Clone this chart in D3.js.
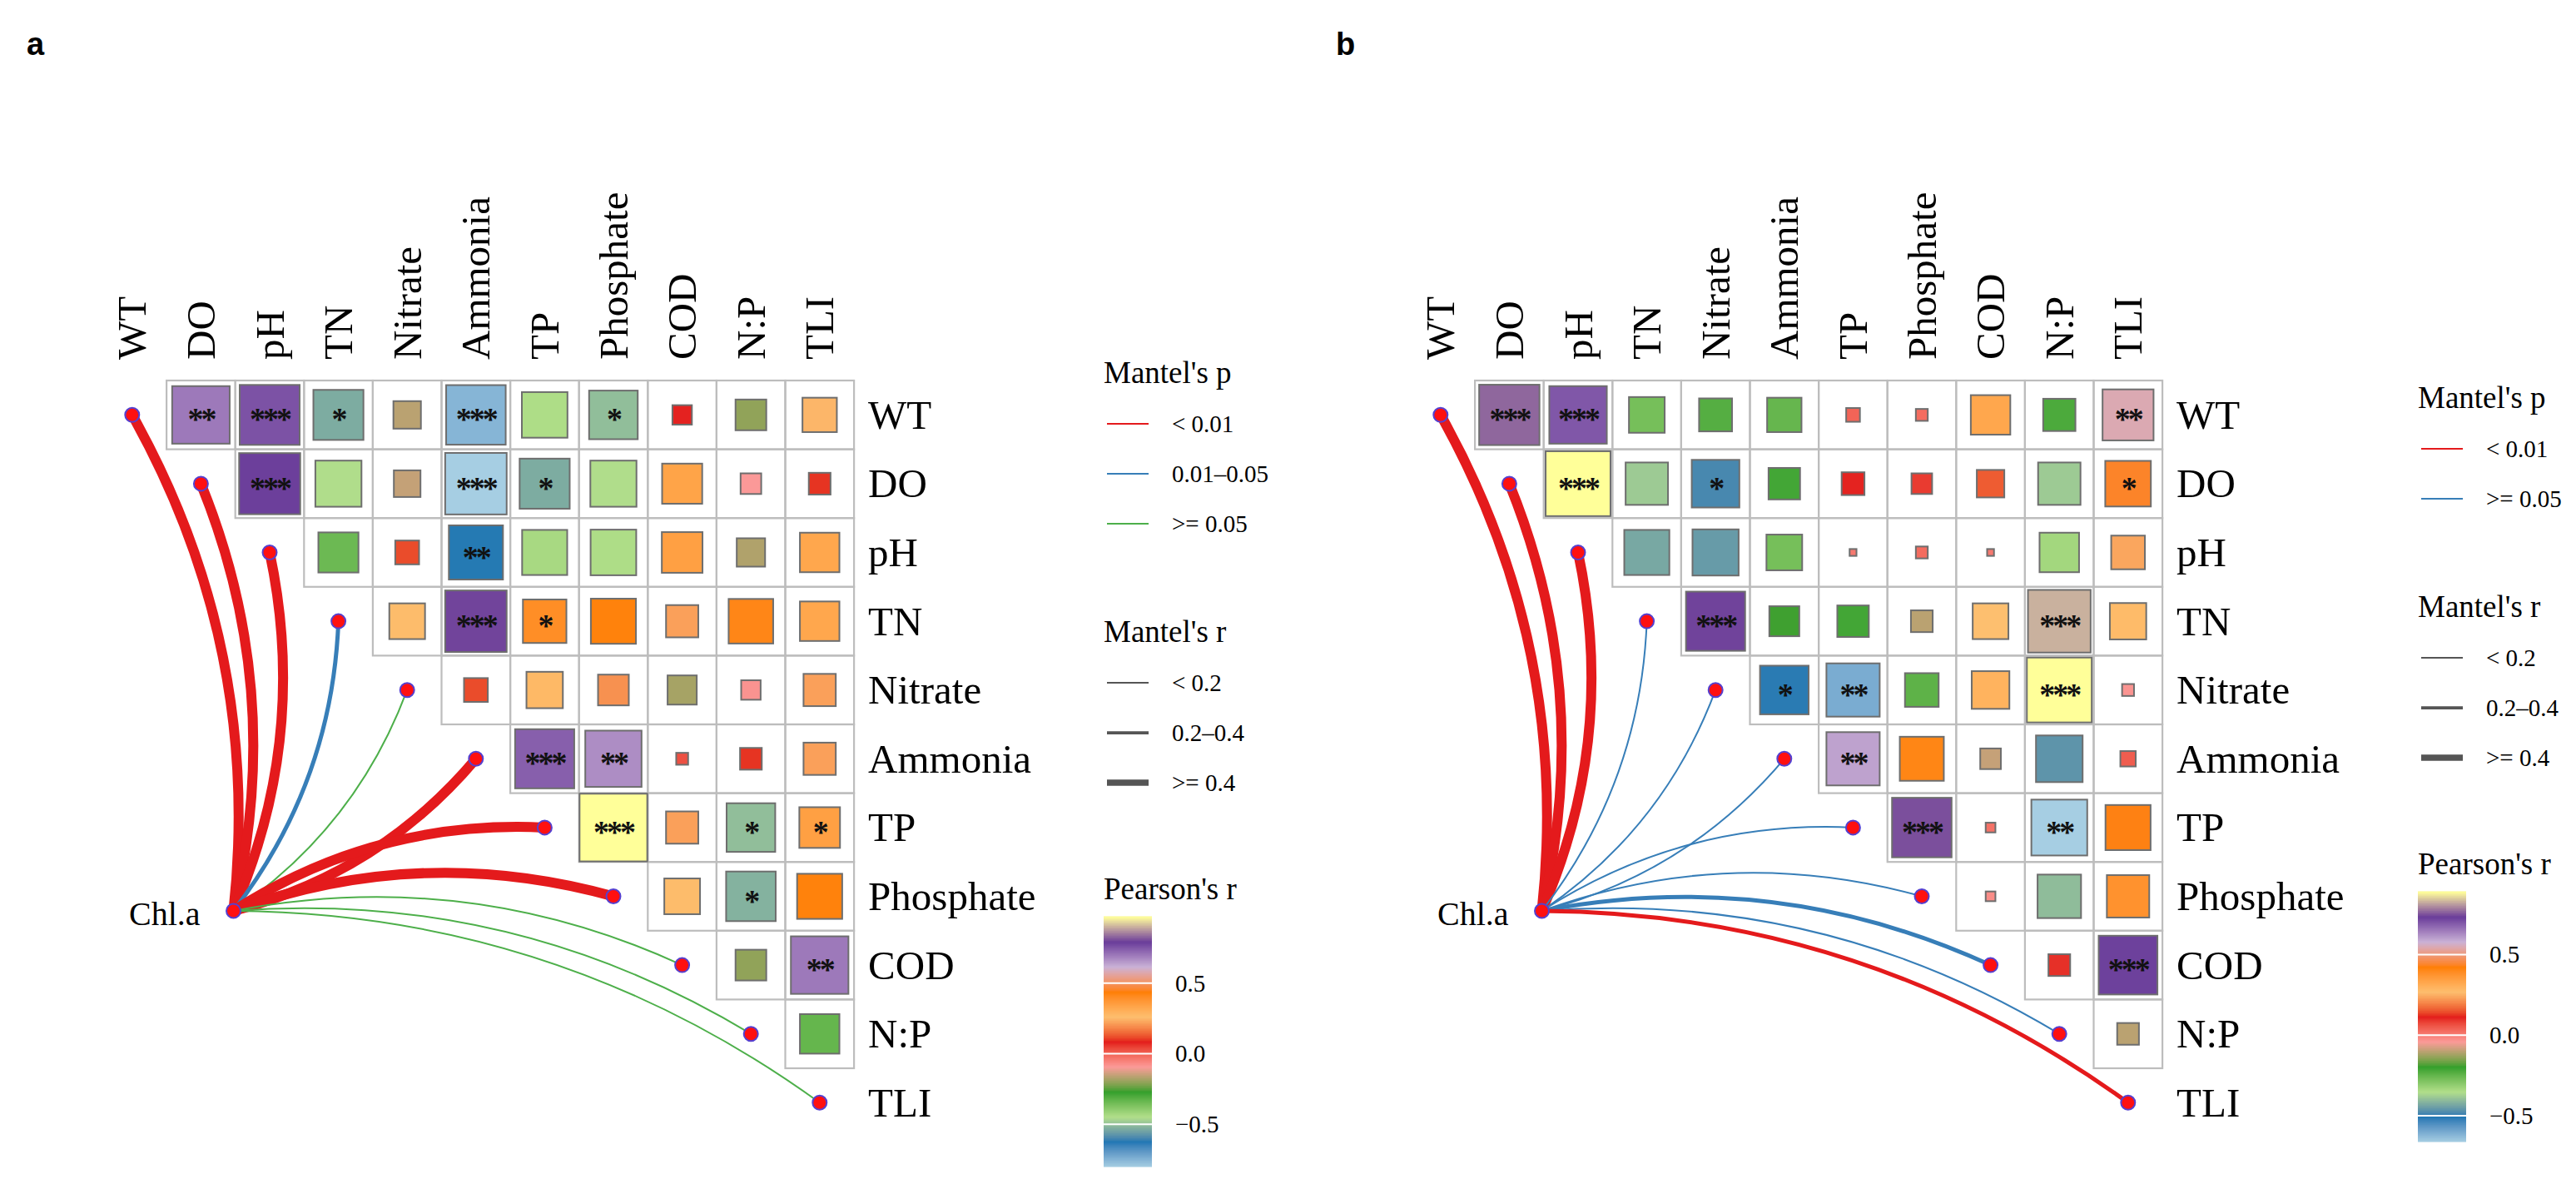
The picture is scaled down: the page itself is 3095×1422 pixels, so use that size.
<!DOCTYPE html>
<html>
<head>
<meta charset="utf-8">
<script src="https://cdn.jsdelivr.net/npm/d3@7"></script>
<style>
  body { margin: 0; background: #fff; }
  svg { display: block; }
  text { font-family: 'Liberation Serif', 'Times New Roman', serif; }
</style>
</head>
<body>
<div id="chart"></div>
<script>
// ---- data ----
const vars = ["WT", "DO", "pH", "TN", "Nitrate", "Ammonia", "TP", "Phosphate", "COD", "N:P", "TLI"];

// Pearson's r, upper triangle: row i holds columns i+1 .. 10
const pearsonA = [
  [0.70, 0.76, -0.53, -0.16, -0.75, -0.44, -0.50, 0.08, -0.20, 0.25],
  [0.79, -0.45, -0.15, -0.80, -0.53, -0.45, 0.34, -0.09, 0.10],
  [-0.34, 0.12, -0.62, -0.43, -0.44, 0.35, -0.17, 0.33],
  [0.27, 0.80, 0.40, 0.43, 0.22, 0.42, 0.33],
  [0.12, 0.28, 0.20, -0.18, -0.08, 0.22],
  [0.74, 0.67, 0.03, 0.10, 0.22],
  [0.97, 0.22, -0.50, 0.35],
  [0.27, -0.52, 0.43],
  [-0.20, 0.70],
  [-0.33],
  []
];
const starsA = [
  ["**", "***", "*", "", "***", "", "*", "", "", ""],
  ["***", "", "", "***", "*", "", "", "", ""],
  ["", "", "**", "", "", "", "", ""],
  ["", "***", "*", "", "", "", ""],
  ["", "", "", "", "", ""],
  ["***", "**", "", "", ""],
  ["***", "", "*", "*"],
  ["", "*", ""],
  ["", "**"],
  [""],
  []
];
const mantelPA = ["< 0.01", "< 0.01", "< 0.01", "0.01–0.05", ">= 0.05", "< 0.01", "< 0.01", "< 0.01", ">= 0.05", ">= 0.05", ">= 0.05"];
const mantelRA = [">= 0.4", ">= 0.4", ">= 0.4", "0.2–0.4", "< 0.2", ">= 0.4", ">= 0.4", ">= 0.4", "< 0.2", "< 0.2", "< 0.2"];

const pearsonB = [
  [0.77, 0.70, -0.27, -0.23, -0.25, 0.04, 0.03, 0.33, -0.22, 0.55],
  [0.89, -0.38, -0.48, -0.21, 0.11, 0.09, 0.16, -0.38, 0.44],
  [-0.43, -0.45, -0.27, 0.01, 0.03, 0.01, -0.33, 0.24],
  [0.74, -0.19, -0.21, -0.10, 0.27, 0.83, 0.28],
  [-0.50, -0.60, -0.24, 0.30, 0.89, -0.03],
  [0.60, 0.41, -0.09, -0.46, 0.05],
  [0.75, 0.02, -0.66, 0.43],
  [-0.02, -0.40, 0.38],
  [0.10, 0.73],
  [-0.10],
  []
];
const starsB = [
  ["***", "***", "", "", "", "", "", "", "", "**"],
  ["***", "", "*", "", "", "", "", "", "*"],
  ["", "", "", "", "", "", "", ""],
  ["***", "", "", "", "", "***", ""],
  ["*", "**", "", "", "***", ""],
  ["**", "", "", "", ""],
  ["***", "", "**", ""],
  ["", "", ""],
  ["", "***"],
  [""],
  []
];
const mantelPB = ["< 0.01", "< 0.01", "< 0.01", ">= 0.05", ">= 0.05", ">= 0.05", ">= 0.05", ">= 0.05", ">= 0.05", ">= 0.05", "< 0.01"];
const mantelRB = [">= 0.4", ">= 0.4", ">= 0.4", "< 0.2", "< 0.2", "< 0.2", "< 0.2", "< 0.2", "0.2–0.4", "< 0.2", "0.2–0.4"];

const pLevelsA = ["< 0.01", "0.01–0.05", ">= 0.05"];
const pLevelsB = ["< 0.01", ">= 0.05"];
const rLevels = ["< 0.2", "0.2–0.4", ">= 0.4"];
const colorTicks = [-0.5, 0.0, 0.5];
const species = "Chl.a";

// ---- layout ----
const W = 3095, H = 1422;
const cell = 82.6;
const gridTop = 457;
const paired = ["#A6CEE3", "#1F78B4", "#B2DF8A", "#33A02C", "#FB9A99", "#E31A1C",
                "#FDBF6F", "#FF7F00", "#CAB2D6", "#6A3D9A", "#FFFF99"];
const pColors = ["#E41A1C", "#377EB8", "#4DAF4A"];
const rWidths = [2, 5, 12];

const svg = d3.select("#chart").append("svg")
  .attr("width", W).attr("height", H);

function drawPanel(cfg) {
  const { x0, pearson, stars, mantelP, mantelR, pLevels, legX, tag, tagX } = cfg;
  const g = svg.append("g");

  const x = d3.scaleBand().domain(vars).range([x0, x0 + cell * vars.length]);
  const y = d3.scaleBand().domain(vars).range([gridTop, gridTop + cell * vars.length]);

  const cells = [];
  pearson.forEach((row, i) => row.forEach((r, k) => {
    const j = i + 1 + k;
    cells.push({ row: vars[i], col: vars[j], r: r, star: stars[i][k] });
  }));

  const ext = d3.extent(cells, d => d.r);
  const color = d3.scaleLinear()
    .domain(d3.range(paired.length).map(i => ext[0] + i * (ext[1] - ext[0]) / (paired.length - 1)))
    .range(paired)
    .interpolate(d3.interpolateLab)
    .clamp(true);
  const side = d3.scaleSqrt().domain([0, 1]).range([0, cell]);

  // grid cells
  g.append("g").selectAll("rect").data(cells).join("rect")
    .attr("x", d => x(d.col)).attr("y", d => y(d.row))
    .attr("width", x.bandwidth()).attr("height", y.bandwidth())
    .attr("fill", "none").attr("stroke", "#BDBDBD").attr("stroke-width", 2.2);

  // squares
  g.append("g").selectAll("rect").data(cells).join("rect")
    .attr("x", d => x(d.col) + (x.bandwidth() - side(Math.abs(d.r))) / 2)
    .attr("y", d => y(d.row) + (y.bandwidth() - side(Math.abs(d.r))) / 2)
    .attr("width", d => side(Math.abs(d.r)))
    .attr("height", d => side(Math.abs(d.r)))
    .attr("fill", d => color(d.r))
    .attr("stroke", "#6E6E6E").attr("stroke-width", 2);

  // significance marks
  g.append("g").selectAll("text").data(cells.filter(d => d.star)).join("text")
    .attr("x", d => x(d.col) + x.bandwidth() / 2)
    .attr("y", d => y(d.row) + y.bandwidth() / 2 + 18)
    .attr("text-anchor", "middle")
    .attr("font-size", 38)
    .attr("font-weight", "bold")
    .attr("letter-spacing", -3)
    .attr("fill", "#111")
    .text(d => d.star);

  // column labels
  g.append("g").selectAll("text").data(vars).join("text")
    .attr("transform", d => `translate(${x(d) + x.bandwidth() / 2},${gridTop - 25}) rotate(-90)`)
    .attr("dominant-baseline", "central")
    .attr("font-size", 49)
    .text(d => d);

  // row labels
  g.append("g").selectAll("text").data(vars).join("text")
    .attr("x", x0 + cell * vars.length + 17)
    .attr("y", d => y(d) + y.bandwidth() / 2)
    .attr("dominant-baseline", "central")
    .attr("font-size", 49)
    .text(d => d);

  // mantel links
  const pScale = d3.scaleOrdinal(pLevels, pColors);
  const wScale = d3.scaleOrdinal(rLevels, rWidths);
  const src = [x0 + 163, gridTop + 637];
  const links = vars.map((v, i) => ({
    env: v, p: mantelP[i], r: mantelR[i],
    end: [x(v) + x.bandwidth() / 2, y(v) + y.bandwidth() / 2]
  }));
  function curve(s, e) {
    const dx = e[0] - s[0], dy = e[1] - s[1];
    const ang = Math.atan2(-dy, dx) * 180 / Math.PI;
    const sg = ang > 15 ? 1 : -1;
    const k = 0.16;
    const cx = (s[0] + e[0]) / 2 - dy * sg * k;
    const cy = (s[1] + e[1]) / 2 + dx * sg * k;
    const p = d3.path();
    p.moveTo(s[0], s[1]);
    p.quadraticCurveTo(cx, cy, e[0], e[1]);
    return p.toString();
  }
  g.append("g").selectAll("path").data(links).join("path")
    .attr("d", d => curve(src, d.end))
    .attr("fill", "none")
    .attr("stroke", d => pScale(d.p))
    .attr("stroke-width", d => wScale(d.r));

  const dots = links.map(d => d.end).concat([src]);
  g.append("g").selectAll("circle").data(dots).join("circle")
    .attr("cx", d => d[0]).attr("cy", d => d[1]).attr("r", 8.5)
    .attr("fill", "#FF1010").attr("stroke", "#5540D0").attr("stroke-width", 2);

  g.append("text")
    .attr("x", src[0] - 40).attr("y", src[1] + 3)
    .attr("text-anchor", "end").attr("dominant-baseline", "central")
    .attr("font-size", 40)
    .text(species);

  // panel tag
  svg.append("text")
    .attr("x", tagX).attr("y", 66)
    .style("font-family", "'Liberation Sans', Arial, sans-serif")
    .attr("font-weight", "bold").attr("font-size", 38)
    .text(tag);

  // ---- legend ----
  const nP = pLevels.length;
  const total = 62 + 60 * (nP - 1) + 129 + 62 + 120 + 127 + 34 + 300;
  let cy = 924 - total / 2;
  const lg = g.append("g");
  const title = (t, yy) => lg.append("text").attr("x", legX).attr("y", yy)
    .attr("dominant-baseline", "central").attr("font-size", 37).text(t);
  const item = (t, yy, stroke, sw) => {
    lg.append("line").attr("x1", legX + 4).attr("x2", legX + 54)
      .attr("y1", yy).attr("y2", yy)
      .attr("stroke", stroke).attr("stroke-width", sw);
    lg.append("text").attr("x", legX + 82).attr("y", yy)
      .attr("dominant-baseline", "central").attr("font-size", 29).text(t);
  };

  title("Mantel's p", cy);
  cy += 62;
  pLevels.forEach((lv, i) => { item(lv, cy, pScale(lv), 2.2); if (i < nP - 1) cy += 60; });
  cy += 129;
  title("Mantel's r", cy);
  cy += 62;
  rLevels.forEach((lv, i) => { item(lv, cy, "#555", wScale(lv) * 0.55 + 1); if (i < 2) cy += 60; });
  cy += 127;
  title("Pearson's r", cy);
  cy += 34;

  const barTop = cy, barH = 300, barW = 58;
  const yb = d3.scaleLinear().domain(ext).range([barTop + barH, barTop]);
  const steps = d3.range(0, 200).map(i => ext[0] + (i + 0.5) * (ext[1] - ext[0]) / 200);
  lg.append("g").selectAll("rect").data(steps).join("rect")
    .attr("x", legX).attr("width", barW)
    .attr("y", d => yb(d) - barH / 400 - 0.6)
    .attr("height", barH / 200 + 1.2)
    .attr("fill", d => color(d));
  const ticks = colorTicks.filter(t => t >= ext[0] && t <= ext[1]);
  lg.append("g").selectAll("line").data(ticks).join("line")
    .attr("x1", legX).attr("x2", legX + barW)
    .attr("y1", d => yb(d)).attr("y2", d => yb(d))
    .attr("stroke", "#fff").attr("stroke-width", 2);
  lg.append("g").selectAll("text").data(ticks).join("text")
    .attr("x", legX + 86).attr("y", d => yb(d))
    .attr("dominant-baseline", "central").attr("font-size", 29)
    .text(d => d3.format(".1f")(d).replace("-", "−"));
}

drawPanel({ x0: 117.5, pearson: pearsonA, stars: starsA, mantelP: mantelPA, mantelR: mantelRA,
            pLevels: pLevelsA, legX: 1326, tag: "a", tagX: 32 });
drawPanel({ x0: 1689.5, pearson: pearsonB, stars: starsB, mantelP: mantelPB, mantelR: mantelRB,
            pLevels: pLevelsB, legX: 2905, tag: "b", tagX: 1605 });
</script>
</body>
</html>
